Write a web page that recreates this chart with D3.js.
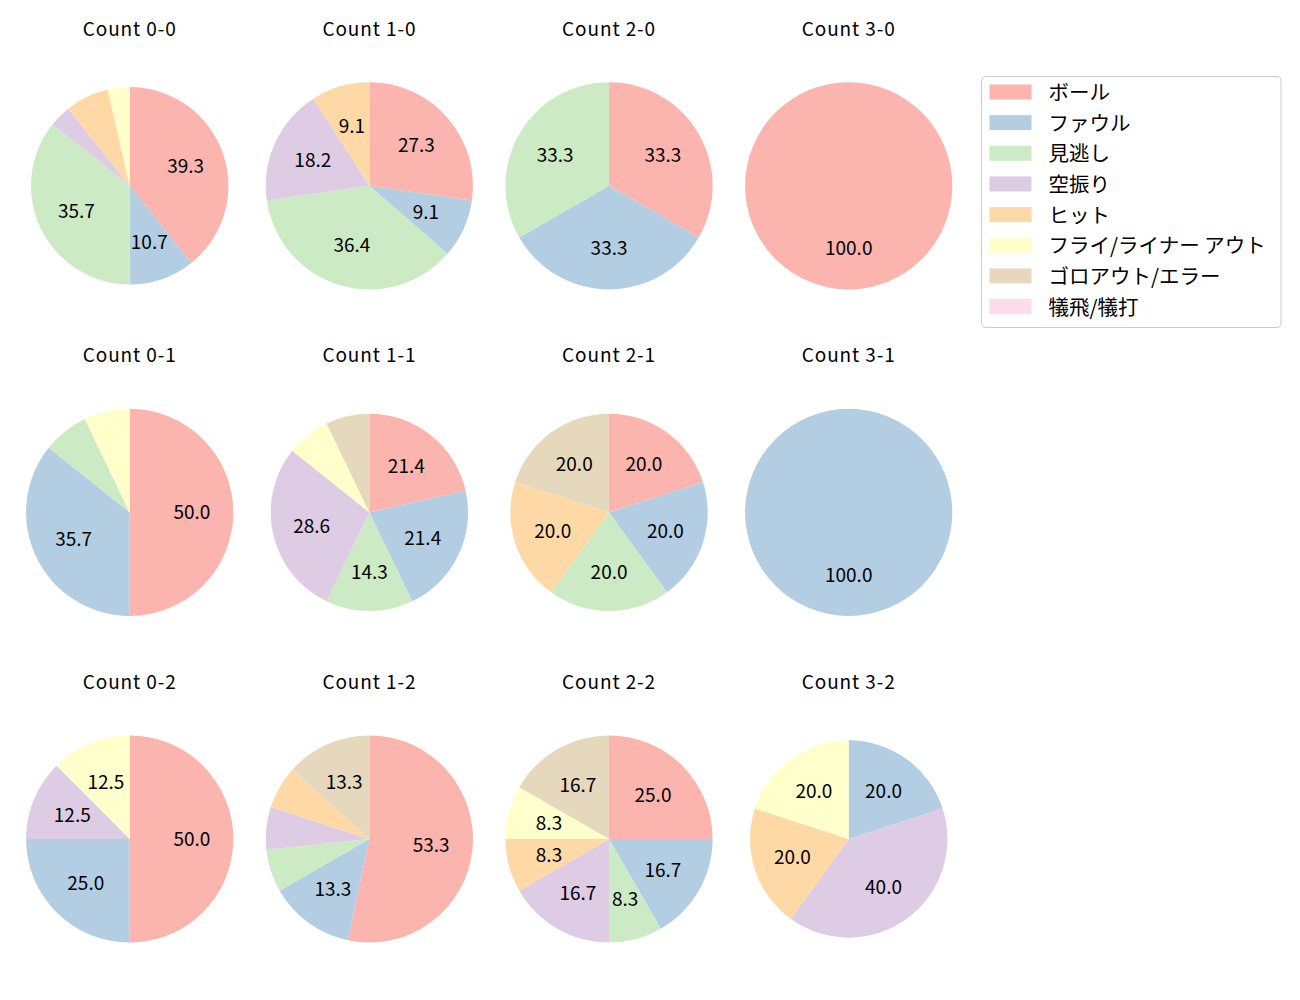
<!DOCTYPE html>
<html lang="ja">
<head>
  <meta charset="UTF-8">
  <title>Count pies</title>
  <script src="https://cdnjs.cloudflare.com/ajax/libs/d3/7.8.5/d3.min.js"></script>
  <style>
    body { margin: 0; background: #fff; }
    svg { display: block; font-family: "Noto Sans CJK JP", "Noto Sans", sans-serif; }
  </style>
</head>
<body>
  <div id="chart"></div>
  <script>
    // result categories (legend order)
    var categories = ["ボール", "ファウル", "見逃し", "空振り", "ヒット",
                      "フライ/ライナー アウト", "ゴロアウト/エラー", "犠飛/犠打"];

    // pitch counts per ball-strike count, in category order
    var count00 = [11, 3, 10, 1, 2, 1, 0, 0];
    var count10 = [3, 1, 4, 2, 1, 0, 0, 0];
    var count20 = [1, 1, 1, 0, 0, 0, 0, 0];
    var count30 = [1, 0, 0, 0, 0, 0, 0, 0];
    var count01 = [7, 5, 1, 0, 0, 1, 0, 0];
    var count11 = [3, 3, 2, 4, 0, 1, 1, 0];
    var count21 = [1, 1, 1, 0, 1, 0, 1, 0];
    var count31 = [0, 1, 0, 0, 0, 0, 0, 0];
    var count02 = [4, 2, 0, 1, 0, 1, 0, 0];
    var count12 = [8, 2, 1, 1, 1, 0, 2, 0];
    var count22 = [3, 2, 1, 2, 1, 1, 2, 0];
    var count32 = [0, 1, 0, 2, 1, 1, 0, 0];

    var panels = [
      {title: "Count 0-0", values: count00}, {title: "Count 1-0", values: count10},
      {title: "Count 2-0", values: count20}, {title: "Count 3-0", values: count30},
      {title: "Count 0-1", values: count01}, {title: "Count 1-1", values: count11},
      {title: "Count 2-1", values: count21}, {title: "Count 3-1", values: count31},
      {title: "Count 0-2", values: count02}, {title: "Count 1-2", values: count12},
      {title: "Count 2-2", values: count22}, {title: "Count 3-2", values: count32}
    ];

    // percentages below this are not labelled
    var minLabelPct = 8;

    // layout
    var width = 1300, height = 1000;
    var colX = d3.scaleLinear().domain([0, 3]).range([129.7, 848.7]);
    var rowY = d3.scaleLinear().domain([0, 2]).range([185.8, 839]);
    var bigR = 103.6, smallR = 98.7;
    var smallPanels = ["Count 0-0", "Count 1-1", "Count 2-1", "Count 3-2"];

    var color = d3.scaleOrdinal().domain(categories).range(d3.schemePastel1);

    var svg = d3.select("#chart").append("svg")
        .attr("width", width)
        .attr("height", height);

    var pie = d3.pie().sort(null).value(function(d) { return d.value; });

    panels.forEach(function(p, i) {
      var col = i % 4, row = Math.floor(i / 4);
      var r = smallPanels.indexOf(p.title) >= 0 ? smallR : bigR;
      var total = d3.sum(p.values);
      var data = p.values.map(function(v, k) { return {cat: categories[k], value: v}; });

      var g = svg.append("g")
          .attr("transform", "translate(" + colX(col) + "," + rowY(row) + ")");

      var arc = d3.arc().innerRadius(0).outerRadius(r);
      var labelArc = d3.arc().innerRadius(r * 0.6).outerRadius(r * 0.6);
      var arcs = pie(data);

      g.selectAll("path")
          .data(arcs.filter(function(d) { return d.data.value > 0; }))
        .enter().append("path")
          .attr("d", arc)
          .attr("fill", function(d) { return color(d.data.cat); });

      g.selectAll("text.pct")
          .data(arcs.filter(function(d) { return d.data.value / total * 100 >= minLabelPct; }))
        .enter().append("text")
          .attr("class", "pct")
          .attr("transform", function(d) { return "translate(" + labelArc.centroid(d) + ")"; })
          .attr("text-anchor", "middle")
          .attr("dominant-baseline", "central")
          .attr("dy", -1.5)
          .attr("font-size", 19)
          .attr("fill", "#000")
          .text(function(d) { return (d.data.value / total * 100).toFixed(1); });

      svg.append("text")
          .attr("x", colX(col))
          .attr("y", rowY(row) - 158.5)
          .attr("text-anchor", "middle")
          .attr("dominant-baseline", "central")
          .attr("font-size", 19)
          .attr("letter-spacing", 0.9)
          .attr("fill", "#000")
          .text(p.title);
    });

    // legend
    var legend = svg.append("g").attr("transform", "translate(981.5,76.5)");
    legend.append("rect")
        .attr("width", 299.5)
        .attr("height", 251)
        .attr("rx", 4)
        .attr("fill", "#fff")
        .attr("fill-opacity", 0.8)
        .attr("stroke", "#cccccc");

    var item = legend.selectAll("g.item")
        .data(categories)
      .enter().append("g")
        .attr("class", "item")
        .attr("transform", function(d, i) { return "translate(0," + (15.5 + i * 30.65) + ")"; });

    item.append("rect")
        .attr("x", 8)
        .attr("y", -7.5)
        .attr("width", 42)
        .attr("height", 15)
        .attr("fill", function(d) { return color(d); });

    item.append("text")
        .attr("x", 67)
        .attr("dy", -1)
        .attr("dominant-baseline", "central")
        .attr("font-size", 20.5)
        .attr("fill", "#000")
        .text(function(d) { return d; });
  </script>
</body>
</html>
